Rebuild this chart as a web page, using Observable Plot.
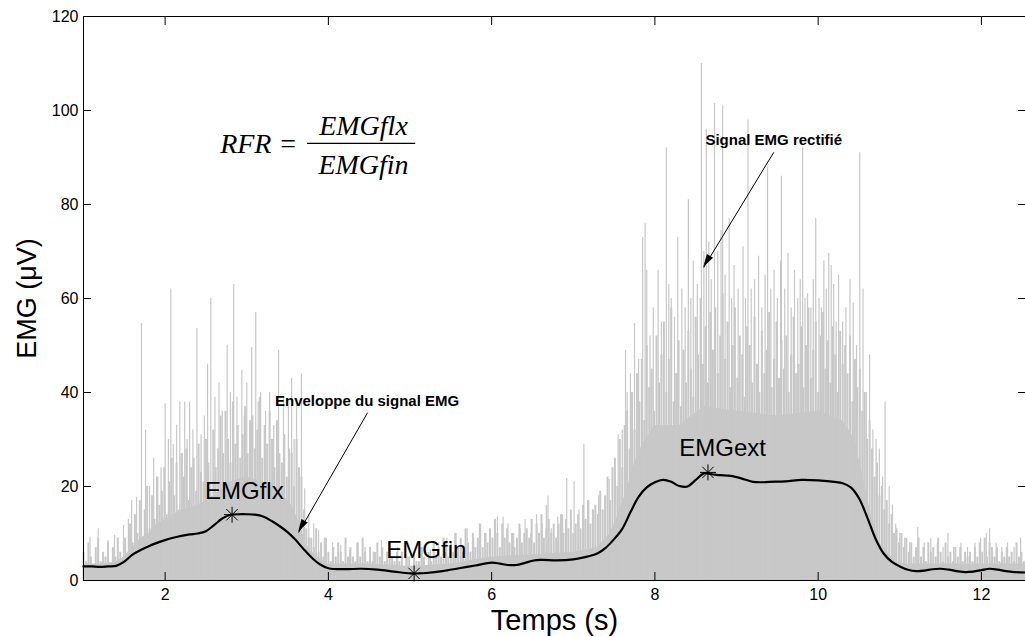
<!DOCTYPE html>
<html><head><meta charset="utf-8">
<script src="https://cdn.jsdelivr.net/npm/d3@7"></script>
<script src="https://cdn.jsdelivr.net/npm/@observablehq/plot@0.6"></script>
<style>body{margin:0;background:#fff} svg{display:block}</style>
</head><body><div id="chart"></div><script>
// Tick labels
const xTicks = [2, 4, 6, 8, 10, 12];
const yTicks = [0, 20, 40, 60, 80, 100, 120];

// Solid bottom of the rectified EMG signal
const coreT = [1.0,1.2,1.4,1.5,1.6,1.7,1.8,1.9,2.0,2.2,2.4,2.6,2.8,3.0,3.2,3.4,3.55,3.65,3.72,3.8,3.9,4.0,4.5,5.0,5.5,6.0,6.5,7.0,7.3,7.45,7.55,7.65,7.75,7.85,8.0,8.3,8.6,9.0,9.5,10.0,10.3,10.45,10.55,10.65,10.75,10.85,10.95,11.1,11.5,12.0,12.54];
const coreV = [3.5,3.5,4,5,7,9,10,12,13,15,16,18,21,22,21,19,16,12,8,6,4.5,3.5,3.5,3,3.5,5,5.5,6,7,10,14,19,25,29,33,33,37,36,35,36,34,30,22,14,8,6,4,3.5,3.5,3.5,3.5];

// Dense rectified EMG samples (every 0.03 s from 1.00 s)
const midStart = 1.0, midStep = 0.03;
const midV = [
  6,4,8,5,3,7,9,4,6,5,8,3,7,5,9,6,4,
  9,6,12,8, 14,10,17,9, 15,20,11,18, 13,22,16,19, 24,14,21,26, 18,25,15,27, 22,28,17,24, 26,19,29,23, 21,30,25,18,
  32,24,28,35, 27,36,30,25, 38,29,33,26, 31,37,27,34, 35,28,32,39, 26,33,29,36, 30,24,34,27, 25,31,22,28, 27,20,30,24, 22,15,11,9,
  9,7,11,6, 8,5,9,6, 4,7,5,8, 6,4,9,5, 7,5,4,8, 5,9,6,4, 7,4,6,8, 5,7,4,6, 8,5,4,6, 4,6,3,5, 5,3,6,4, 4,7,5,3,
  6,4,8,5, 7,5,9,6, 5,8,6,10, 7,9,6,11, 8,6,10,7, 9,12,7,10, 8,11,9,13, 10,7,12,9, 11,8,10,7, 9,12,8,10,
  11,9,13,8, 12,10,14,9, 11,13,10,12, 9,12,14,10, 13,11,15,10, 12,14,11,16, 13,17,12,15, 16,14,19,15, 18,22,17,24,
  26,20,30,24,33, 36,28,40,32,44, 38,47,34,50,41, 45,36,52,42,48, 55,40,47,58,38, 44,51,37,49,42, 53,45,39,56,48,
  60,46,54,42,57, 49,58,44,52,61, 47,55,41,50,58, 43,52,48,39,54, 50,42,56,46,40, 53,44,49,57,41, 47,55,43,51,45,
  52,40,48,56,44, 46,54,41,50,58, 43,49,55,40,52, 57,45,51,42,54, 48,40,53,46,50, 44,52,38,47,41, 45,36,40,30,34,
  28,22,25,18,20, 15,17,12,14,10, 11,8,10,7,9, 6,8,5,7,9, 5,7,4,8,6, 7,5,9,6,4, 8,5,6,4,7, 5,7,4,6,5,
  6,4,7,5,8, 6,9,5,8,7, 5,7,4,6,5, 7,5,6,4,8, 5,6,4
];

// Tall individual spikes of the rectified EMG signal
const spikeT = [1.08,1.18,1.30,1.38,1.49,1.55,1.59,1.65,1.71,1.76,1.81,1.86,1.91,1.95,2.0,2.04,2.07,2.10,2.14,2.18,2.21,2.24,2.27,2.30,2.34,2.39,2.44,2.48,2.52,2.56,2.61,2.66,2.70,2.76,2.80,2.84,2.88,2.94,2.97,3.0,3.06,3.11,3.14,3.17,3.23,3.28,3.33,3.39,3.45,3.51,3.55,3.58,3.61,3.67,3.71,3.76,3.82,3.88,3.95,4.05,4.15,4.26,4.35,4.45,4.55,4.65,4.75,4.85,4.95,5.05,5.15,5.25,5.35,5.45,5.55,5.62,5.70,5.78,5.85,5.93,6.04,6.07,6.14,6.20,6.27,6.35,6.41,6.48,6.55,6.62,6.67,6.69,6.73,6.81,6.87,6.92,7.01,7.07,7.13,7.19,7.24,7.31,7.39,7.44,7.51,7.55,7.60,7.64,7.66,7.70,7.75,7.80,7.85,7.88,7.90,7.94,7.98,8.04,8.08,8.14,8.17,8.20,8.24,8.28,8.33,8.37,8.41,8.44,8.47,8.52,8.57,8.60,8.63,8.66,8.69,8.73,8.77,8.81,8.83,8.86,8.91,8.94,8.97,9.02,9.08,9.11,9.14,9.18,9.22,9.27,9.31,9.35,9.38,9.42,9.46,9.50,9.54,9.55,9.59,9.63,9.67,9.71,9.75,9.78,9.81,9.84,9.87,9.91,9.94,9.97,10.01,10.04,10.07,10.10,10.13,10.16,10.19,10.22,10.25,10.30,10.34,10.39,10.43,10.47,10.51,10.55,10.59,10.63,10.67,10.71,10.75,10.79,10.82,10.87,10.91,10.95,11.0,11.06,11.12,11.22,11.30,11.38,11.46,11.53,11.59,11.66,11.75,11.83,11.92,11.99,12.06,12.10,12.18,12.25,12.32,12.40,12.48];
const spikeV = [9.2,11,8.5,9.6,11.7,13,17,17.7,54.7,32,20,26,22,24,37.6,30,62,29,33,38,27,38,30,38,32,53.6,31,35,46,60,39,42,36,50,40,63,39,44.7,35,42,49.6,57,38,40,36,40,33,49,39,37,43,30,38,44,19.5,14,12,10.6,9,8,7.5,6.4,8,7,6,8.5,6,7,5.5,6,7,6.5,8,9,10,8,11,9,12,10,12.8,13.5,13.5,12,10,11,13,10,14,12,16,18,11,13.5,14,21.7,21,15,29,17,15,18,16.5,21.5,21.5,31,32,49,40,44,54.7,47,73,76,66,52,58,66,55,92,63,60,56,73,62,58,81,60,68,63,110,70,96,72,64,101.5,70,74.5,101,65,77,60,67,62,71,60,98,62,64,69,58,65,88,62,66,60,68,86,62,69.6,58,66,60,64,92,60,61,58,64,77,60,58,68,62,69.6,67,63,55,65,55,58,64,59,50,91,62,40,48,32,30,28,22,38,20,16,12,10,9,8,11.3,8,9,8,7,10,7,8,7,8,9,10,11,8,7,8,7,9];

// Envelope of the EMG signal
const envT = [1.0,1.1,1.2,1.3,1.4,1.5,1.6,1.7,1.8,1.9,2.0,2.1,2.2,2.3,2.4,2.5,2.6,2.7,2.8,2.9,3.0,3.1,3.2,3.3,3.4,3.5,3.6,3.7,3.8,3.9,4.0,4.2,4.4,4.6,4.8,5.0,5.1,5.2,5.4,5.6,5.8,6.0,6.1,6.2,6.3,6.4,6.5,6.6,6.8,7.0,7.1,7.2,7.3,7.4,7.5,7.6,7.7,7.8,7.9,8.0,8.1,8.2,8.3,8.4,8.5,8.6,8.7,8.8,8.9,9.0,9.1,9.2,9.3,9.4,9.6,9.8,10.0,10.2,10.3,10.4,10.5,10.6,10.7,10.8,10.9,11.0,11.1,11.2,11.3,11.4,11.5,11.6,11.7,11.8,11.9,12.0,12.1,12.2,12.3,12.4,12.54];
const envV = [3.0,3.0,2.9,3.0,3.1,4.0,5.5,6.5,7.3,8.0,8.6,9.1,9.5,9.8,10.0,10.5,11.8,13.2,14.0,14.1,14.1,14.0,13.6,12.7,11.6,10.3,8.6,6.6,4.8,3.4,2.6,2.4,2.5,2.3,1.9,1.5,1.5,1.6,2.0,2.6,3.2,3.8,3.6,3.3,3.3,3.7,4.2,4.4,4.3,4.5,4.8,5.2,5.8,7.0,8.8,11.0,14.5,17.8,19.8,20.9,21.4,21.0,20.1,20.0,21.4,22.8,22.6,22.4,22.3,22.0,21.5,21.0,20.9,21.0,21.1,21.4,21.3,21.0,20.7,19.8,17.5,13.5,9.0,5.8,4.0,3.0,2.3,2.0,2.1,2.4,2.5,2.3,2.0,1.8,1.9,2.2,2.5,2.3,2.0,1.8,1.7];

// Marked points and their labels
const markName = ["EMGflx", "EMGfin", "EMGext"];
const markT = [2.82, 5.05, 8.65];
const markV = [14.0, 1.5, 23.0];
const markLabelT = [2.97, 5.20, 8.83];
const markLabelV = [18.9, 6.4, 28.1];

// Annotations
const noteText = ["Signal EMG rectifié", "Enveloppe du signal EMG"];
const noteT = [9.456, 4.474];
const noteV = [93.6, 38.1];
const arrowT1 = [9.456, 4.48];
const arrowV1 = [91.1, 35.7];
const arrowT2 = [8.598, 3.635];
const arrowV2 = [66.6, 10.2];

// Formula
const formulaLeft = {text: "RFR =", t: 3.62, v: 92.8};
const formulaNum = {text: "EMGflx", t: 4.43, v: 96.8};
const formulaDen = {text: "EMGfin", t: 4.43, v: 88.4};
const formulaBar = {t1: 3.745, t2: 5.07, v: 93.0};

const core = coreT.map((t, i) => ({t, v: coreV[i]}));
const mids = midV.map((v, i) => ({t: midStart + i * midStep, v}));
const spikes = spikeT.map((t, i) => ({t, v: spikeV[i]}));
const env = envT.map((t, i) => ({t, v: envV[i]}));
const marks = markName.map((name, i) => ({name, t: markT[i], v: markV[i], lt: markLabelT[i], lv: markLabelV[i]}));
const notes = noteText.map((text, i) => ({text, t: noteT[i], v: noteV[i], x1: arrowT1[i], y1: arrowV1[i], x2: arrowT2[i], y2: arrowV2[i]}));

const grey = "#c8c8c8";
const sans = "Liberation Sans, Arial, Helvetica, sans-serif";
const serif = "Liberation Serif, Times New Roman, serif";

const chart = Plot.plot({
  width: 1025, height: 637,
  marginLeft: 83, marginRight: 0, marginTop: 16, marginBottom: 57,
  style: {fontFamily: sans, background: "#fff", color: "#000", overflow: "visible"},
  x: {domain: [1, 12.54]},
  y: {domain: [0, 120]},
  marks: [
    Plot.areaY(core, {x: "t", y: "v", fill: grey}),
    Plot.ruleX(mids, {x: "t", y1: 0, y2: "v", stroke: grey, strokeWidth: 2}),
    Plot.ruleX(spikes, {x: "t", y1: 0, y2: "v", stroke: grey, strokeWidth: 1.2}),
    Plot.line(env, {x: "t", y: "v", stroke: "#000", strokeWidth: 2.2, curve: "catmull-rom"}),
    Plot.dot(marks, {x: "t", y: "v", symbol: "plus", r: 5.2, stroke: "#000", strokeWidth: 1}),
    Plot.dot(marks, {x: "t", y: "v", symbol: "times", r: 5.2, stroke: "#000", strokeWidth: 1}),
    Plot.text(marks, {x: "lt", y: "lv", text: "name", fontSize: 24, fill: "#000"}),
    Plot.text(notes, {x: "t", y: "v", text: "text", fontSize: 15, fontWeight: "bold", fill: "#000", ariaLabel: "note"}),
    Plot.link(notes, {x1: "x1", y1: "y1", x2: "x2", y2: "y2", stroke: "#000", strokeWidth: 1}),
    Plot.text([formulaLeft], {x: "t", y: "v", text: "text", textAnchor: "end", fontFamily: serif, fontStyle: "italic", fontSize: 28, ariaLabel: "formula-left"}),
    Plot.text([formulaNum, formulaDen], {x: "t", y: "v", text: "text", fontFamily: serif, fontStyle: "italic", fontSize: 28, ariaLabel: "formula"}),
    Plot.ruleY([formulaBar], {x1: "t1", x2: "t2", y: "v", stroke: "#000", strokeWidth: 1.3}),
    Plot.frame({stroke: "#000"}),
    Plot.axisX({ticks: xTicks, tickSize: 0, tickPadding: 8, fontSize: 16, label: null}),
    Plot.axisX({ticks: xTicks, anchor: "bottom", tickSize: 8, dy: -8, tickFormat: () => "", label: null}),
    Plot.axisX({ticks: xTicks, anchor: "top", tickSize: 8, dy: 8, tickFormat: () => "", label: null}),
    Plot.axisY({ticks: yTicks, tickSize: 0, tickPadding: 5, fontSize: 16, label: null}),
    Plot.axisY({ticks: yTicks, anchor: "left", tickSize: 8, dx: 8, tickFormat: () => "", label: null}),
    Plot.axisY({ticks: yTicks, anchor: "right", tickSize: 8, dx: -8, tickFormat: () => "", label: null}),
    Plot.text(["Temps (s)"], {frameAnchor: "bottom", textAnchor: "middle", lineAnchor: "middle", dy: 40, fontSize: 29, text: d => d}),
    Plot.text(["EMG (μV)"], {frameAnchor: "left", textAnchor: "middle", lineAnchor: "middle", dx: -56, rotate: -90, fontSize: 27, text: d => d})
  ]
});
document.getElementById("chart").append(chart);
const svg = d3.select(chart);
svg.selectAll('g[aria-label="formula"] text').style("letter-spacing", "4.5px");
svg.selectAll('g[aria-label="formula-left"] text').style("letter-spacing", "4.5px");
svg.selectAll('g[aria-label="note"] text').style("letter-spacing", "1.1px");

// Filled arrow heads, placed through the chart's own scales
const sx = chart.scale("x"), sy = chart.scale("y");
const heads = svg.append("g").attr("aria-label", "arrow heads");
notes.forEach(n => {
  const x1 = sx.apply(n.x1), y1 = sy.apply(n.y1), x2 = sx.apply(n.x2), y2 = sy.apply(n.y2);
  const a = Math.atan2(y2 - y1, x2 - x1), L = 13, W = 3.6;
  const bx = x2 - L * Math.cos(a), by = y2 - L * Math.sin(a);
  const px = -Math.sin(a) * W, py = Math.cos(a) * W;
  heads.append("polygon")
    .attr("points", `${x2},${y2} ${bx + px},${by + py} ${bx - px},${by - py}`)
    .attr("fill", "#000");
});
</script></body></html>
